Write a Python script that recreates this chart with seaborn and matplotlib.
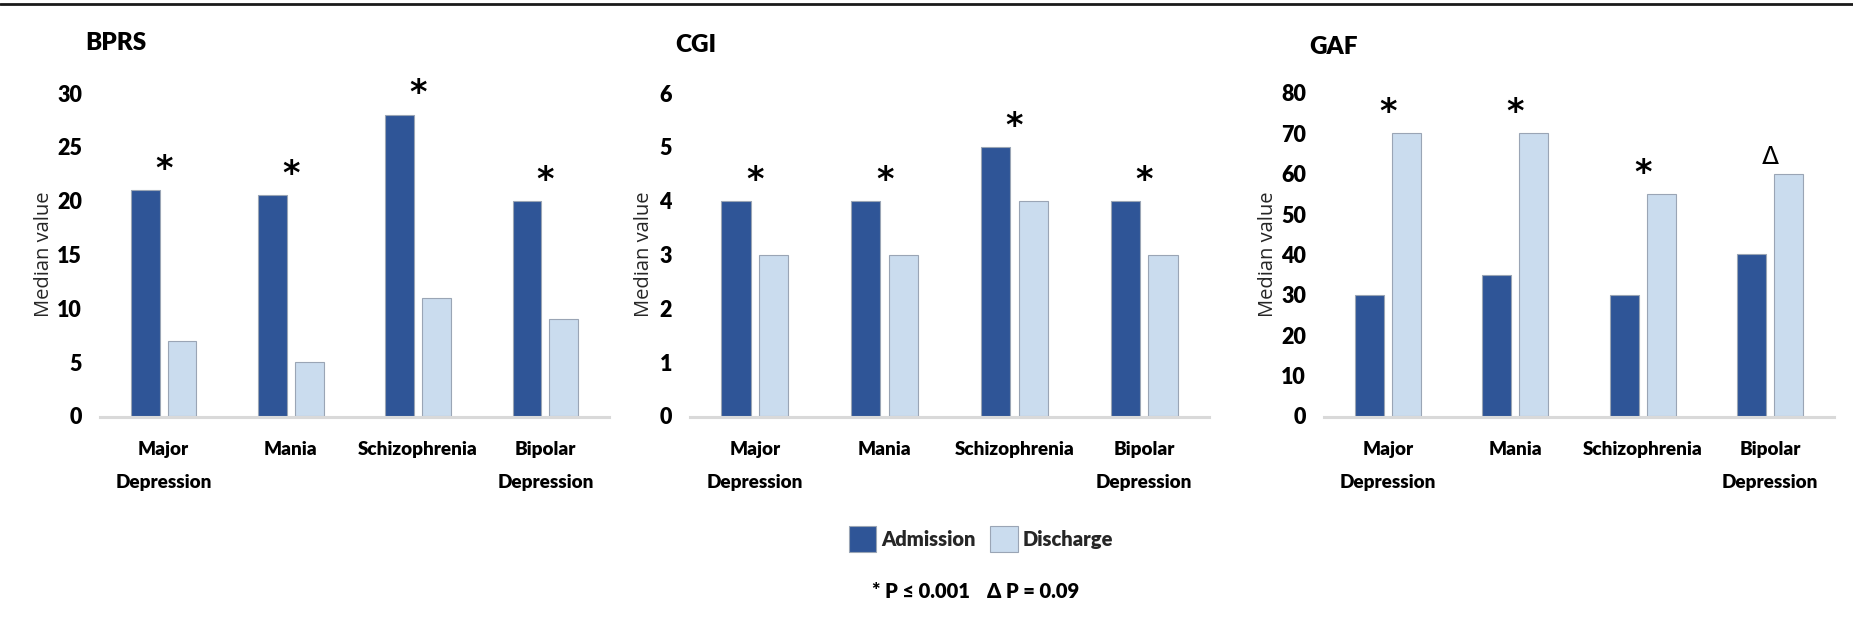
import matplotlib
matplotlib.use("Agg")
import matplotlib.pyplot as plt
from matplotlib.lines import Line2D
import seaborn as sns
import pandas as pd

# ---- data -------------------------------------------------------------
diagnoses = ["Major\nDepression", "Mania", "Schizophrenia", "Bipolar\nDepression"]
phases = ["Admission", "Discharge"]

bprs_admission = [21, 20.5, 28, 20]
bprs_discharge = [7, 5, 11, 9]
cgi_admission = [4, 4, 5, 4]
cgi_discharge = [3, 3, 4, 3]
gaf_admission = [30, 35, 30, 40]
gaf_discharge = [70, 70, 55, 60]

bprs_marks = ["*", "*", "*", "*"]
cgi_marks = ["*", "*", "*", "*"]
gaf_marks = ["*", "*", "*", "Δ"]

scale_names = ["BPRS", "CGI", "GAF"]
y_max = [30, 6, 80]
y_step = [5, 1, 10]

# ---- style ------------------------------------------------------------
sns.set_theme(style="white")
SANS = ["Lato", "DejaVu Sans"]
plt.rcParams["font.family"] = SANS
WEIGHT = "heavy"

DARK = "#2F5597"
LIGHT = "#CADCEE"
EDGE = "#9AA5B5"
AXIS_GREY = "#D9D9D9"

W, H, DPI = 1853, 624, 100
fig = plt.figure(figsize=(W / DPI, H / DPI), dpi=DPI)
fig.patch.set_facecolor("white")


def fx(px):
    return px / W


def fy(py):
    return 1 - py / H


panels = [
    (bprs_admission, bprs_discharge, bprs_marks),
    (cgi_admission, cgi_discharge, cgi_marks),
    (gaf_admission, gaf_discharge, gaf_marks),
]
# axes boxes in pixels: (left, right)
boxes = [(100, 609), (690, 1209), (1324, 1834)]
plot_top, plot_bottom = 93, 416
title_base = [50, 52, 54]
ylabel_x = [44, 644, 1268]

handles = labels = None
for k, ((adm, dis, marks), (x0, x1)) in enumerate(zip(panels, boxes)):
    ax = fig.add_axes([fx(x0), fy(plot_bottom), fx(x1 - x0),
                       (plot_bottom - plot_top) / H])
    df = pd.DataFrame({
        "diagnosis": diagnoses * 2,
        "phase": [phases[0]] * 4 + [phases[1]] * 4,
        "value": list(adm) + list(dis),
    })
    sns.barplot(data=df, x="diagnosis", y="value", hue="phase",
                order=diagnoses, hue_order=phases,
                palette=[DARK, LIGHT], saturation=1, width=0.58, gap=0.22,
                edgecolor=EDGE, linewidth=0.8, ax=ax, zorder=3)
    if handles is None:
        handles, labels = ax.get_legend_handles_labels()
    ax.get_legend().remove()

    ax.set_xlim(-0.5, 3.5)
    ax.set_ylim(0, y_max[k])
    ax.set_yticks(range(0, y_max[k] + 1, y_step[k]))
    ax.set_xlabel("")
    ax.set_ylabel("")
    for side in ("top", "right", "left"):
        ax.spines[side].set_visible(False)
    ax.spines["bottom"].set_color(AXIS_GREY)
    ax.spines["bottom"].set_linewidth(2.2)
    ax.spines["bottom"].set_position(("outward", 1))
    ax.spines["bottom"].set_zorder(1)
    ax.tick_params(axis="y", length=0, pad=13)
    ax.tick_params(axis="x", length=0, pad=17)
    for t in ax.get_yticklabels():
        t.set_fontfamily(SANS)
        t.set_fontweight(WEIGHT)
        t.set_fontsize(15.5)
        t.set_color("black")
    for t in ax.get_xticklabels():
        t.set_fontfamily(SANS)
        t.set_fontweight(WEIGHT)
        t.set_fontsize(13.6)
        t.set_color("black")
        t.set_linespacing(2.12)
    ax.set_facecolor("white")

    # significance marks above the taller bar of each pair
    for i, m in enumerate(marks):
        top = max(adm[i], dis[i])
        if m == "*":
            ax.annotate(m, xy=(i, top), xytext=(0, 8),
                        textcoords="offset points", ha="center", va="baseline",
                        fontsize=24, fontweight="bold",
                        family=["DejaVu Sans"], color="black")
        else:
            ax.annotate(m, xy=(i, top), xytext=(0, 7),
                        textcoords="offset points", ha="center", va="baseline",
                        fontsize=18, family=["DejaVu Sans"], color="black")

    fig.text(fx(x0 - 15), fy(title_base[k]), scale_names[k], ha="left",
             va="baseline", fontsize=17.5, fontweight=WEIGHT, family=SANS,
             color="black")
    fig.text(fx(ylabel_x[k]), fy(254), "Median value", rotation=90,
             ha="center", va="center", fontsize=14.5,
             family=["Open Sans", "DejaVu Sans"], color="#262626")

fig.legend(handles, labels, loc="center",
           bbox_to_anchor=(fx(981), fy(539)), ncol=2, frameon=False,
           handlelength=1.38, handleheight=1.58, handletextpad=0.25,
           columnspacing=0.7,
           prop={"family": SANS, "weight": WEIGHT, "size": 14.5})

fig.text(fx(872), fy(592), "* P ≤ 0.001", ha="left", va="center",
         fontsize=14.5, fontweight=WEIGHT, family=SANS, color="black")
fig.text(fx(987), fy(592), "Δ P = 0.09", ha="left", va="center",
         fontsize=14.5, fontweight=WEIGHT, family=SANS, color="black")

fig.add_artist(Line2D([0, 1], [fy(3.5), fy(3.5)], transform=fig.transFigure,
                      color="#1A1A1A", lw=2))

fig.savefig("out.png", dpi=DPI, facecolor="white")
